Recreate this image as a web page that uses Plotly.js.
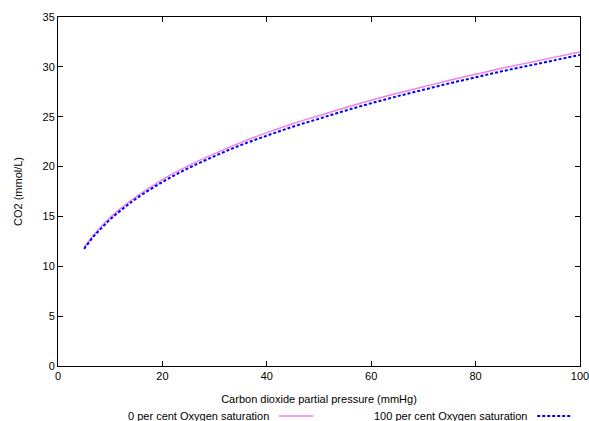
<!DOCTYPE html>
<html>
<head>
<meta charset="utf-8">
<script src="https://cdn.plot.ly/plotly-3.0.1.min.js"></script>
<style>html,body{margin:0;padding:0;background:#fff;}#chart{width:589px;height:421px;}</style>
</head>
<body>
<div id="chart"></div>
<script>
// Carbon dioxide partial pressure (mmHg)
const pco2 = [5, 6, 7, 8, 10, 12.5, 15, 20, 25, 30, 35, 40, 45, 50, 55, 60, 65, 70, 75, 80, 85, 90, 95, 100];
// CO2 content (mmol/L), 0 per cent oxygen saturation
const co2Sat0 = [11.9, 12.6, 13.25, 13.85, 14.9, 16.0, 17.0, 18.7, 20.1, 21.3, 22.4, 23.4, 24.3, 25.1, 25.9, 26.65, 27.35, 28.0, 28.65, 29.25, 29.85, 30.4, 30.95, 31.5];
// CO2 content (mmol/L), 100 per cent oxygen saturation
const co2Sat100 = [11.75, 12.45, 13.1, 13.65, 14.7, 15.8, 16.8, 18.45, 19.85, 21.05, 22.15, 23.1, 24.0, 24.8, 25.6, 26.35, 27.05, 27.7, 28.35, 28.95, 29.55, 30.1, 30.65, 31.2];
const seriesNames = ["0 per cent Oxygen saturation", "100 per cent Oxygen saturation"];
const xTicks = [0, 20, 40, 60, 80, 100];
const yTicks = [0, 5, 10, 15, 20, 25, 30, 35];

const font = {family: "Liberation Sans, Arial, sans-serif", size: 11, color: "#000"};

const traces = [
  {x: pco2, y: co2Sat0, name: seriesNames[0], type: "scatter", mode: "lines",
   line: {color: "#ee82ee", width: 1.5, shape: "spline"}},
  {x: pco2, y: co2Sat100, name: seriesNames[1], type: "scatter", mode: "lines",
   line: {color: "#0000ff", width: 2, dash: "3px,2px", shape: "spline"}}
];

const axisCommon = {
  showgrid: false, zeroline: false, showline: true, linecolor: "#000", linewidth: 1,
  mirror: "ticks", ticks: "inside", ticklen: 5, tickcolor: "#000", tickwidth: 1,
  tickfont: font, tickmode: "array", ticklabeloverflow: "allow"
};

const layout = {
  width: 589, height: 421,
  margin: {l: 58, r: 9, t: 17, b: 55},
  paper_bgcolor: "#fff", plot_bgcolor: "#fff",
  showlegend: false,
  font: font,
  xaxis: Object.assign({}, axisCommon, {
    range: [0, 100], tickvals: xTicks, ticktext: xTicks.map(String),
    title: {text: "Carbon dioxide partial pressure (mmHg)", font: font, standoff: 14}
  }),
  yaxis: Object.assign({}, axisCommon, {
    range: [0, 35], tickvals: yTicks, ticktext: yTicks.map(String),
    title: {text: "CO2 (mmol/L)", font: font, standoff: 17}
  }),
  annotations: [
    {xref: "paper", yref: "paper", x: 0.408, y: -0.143, xanchor: "right", yanchor: "middle",
     text: seriesNames[0], showarrow: false, font: font},
    {xref: "paper", yref: "paper", x: 0.902, y: -0.143, xanchor: "right", yanchor: "middle",
     text: seriesNames[1], showarrow: false, font: font}
  ],
  shapes: [
    {type: "line", xref: "paper", yref: "paper", x0: 0.423, x1: 0.489, y0: -0.143, y1: -0.143,
     line: {color: "#ee82ee", width: 1.5}},
    {type: "line", xref: "paper", yref: "paper", x0: 0.918, x1: 0.985, y0: -0.143, y1: -0.143,
     line: {color: "#0000ff", width: 2, dash: "3px,2px"}}
  ]
};

Plotly.newPlot("chart", traces, layout, {displayModeBar: false, staticPlot: true});
</script>
</body>
</html>
